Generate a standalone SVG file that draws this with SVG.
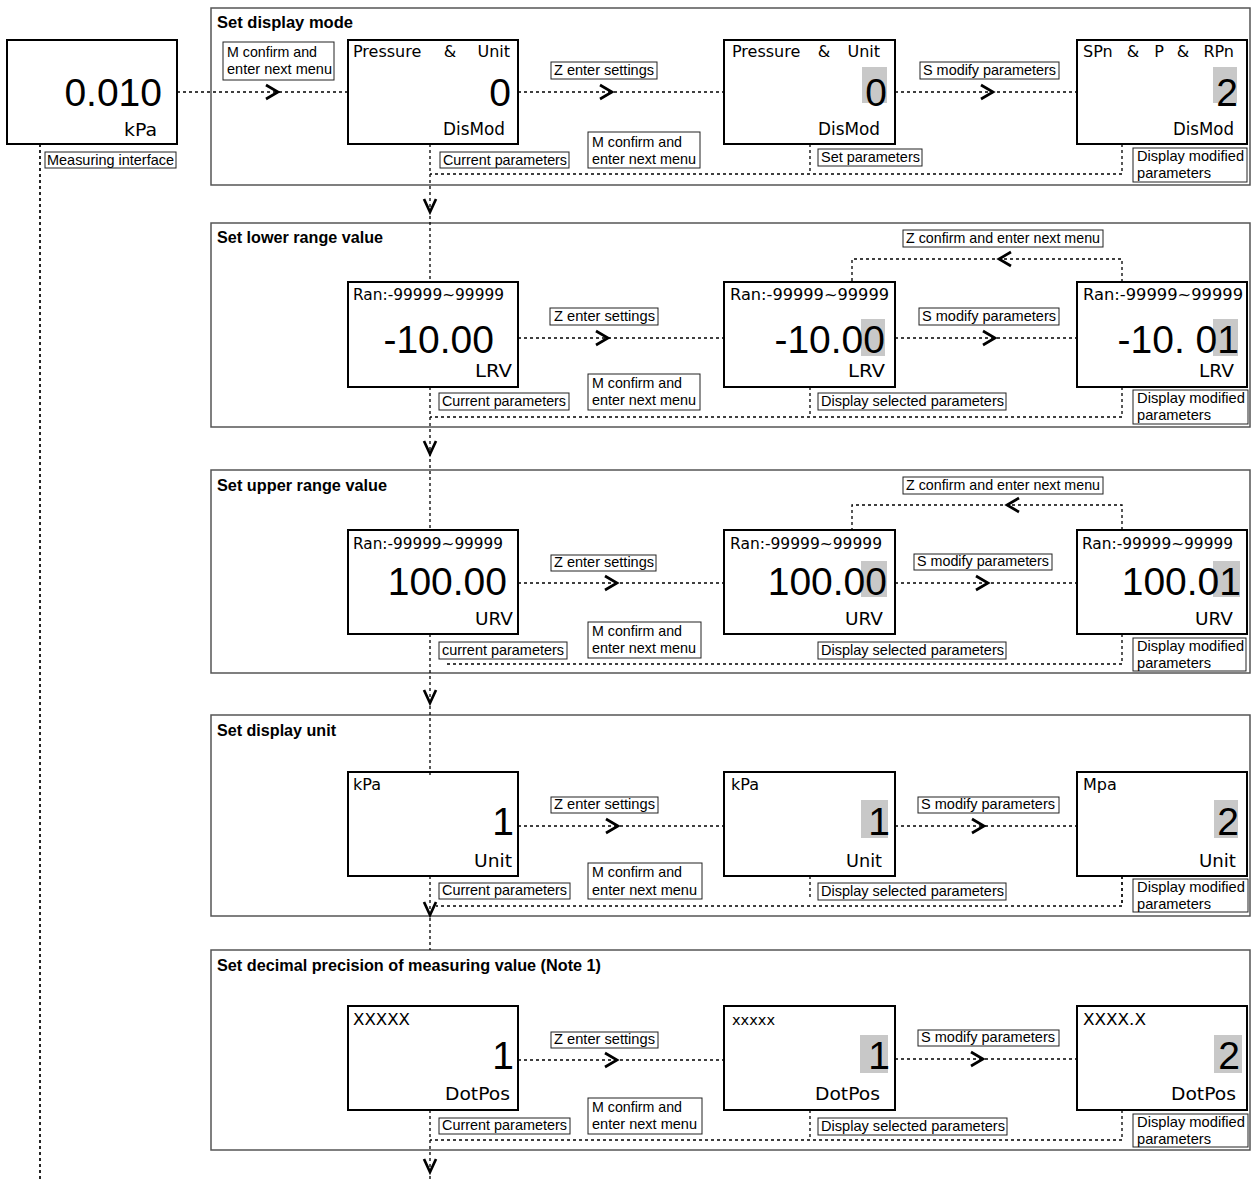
<svg xmlns="http://www.w3.org/2000/svg" width="1251" height="1180" viewBox="0 0 1251 1180">
<style>
.frame{fill:none;stroke:#555;stroke-width:1.5}
.node{fill:#fff;stroke:#000;stroke-width:2}
.lb{fill:#fff;stroke:#222;stroke-width:1}
.hl{fill:#c8c8c8}
.d{fill:none;stroke:#000;stroke-width:1.3;stroke-dasharray:3 3}
.dt{fill:none;stroke:#000;stroke-width:1.7;stroke-dasharray:3 3}
.ch{fill:none;stroke:#000;stroke-width:2.7}
text{fill:#000}
.tl{font-family:"Liberation Sans",Arial,sans-serif;font-size:14.5px}
.tt{font-family:"Liberation Sans",Arial,sans-serif;font-size:16px;font-weight:bold}
.tp{font-family:"DejaVu Sans",Verdana,sans-serif;font-size:16px}
.tb{font-family:"Liberation Sans",Arial,sans-serif;font-size:39px;text-anchor:end}
.tn{font-family:"DejaVu Sans",Verdana,sans-serif;font-size:18px}
</style>

<g id="frames">
<rect class="frame" x="211" y="8" width="1039" height="177"/>
<text class="tt" x="217" y="28" textLength="136" lengthAdjust="spacingAndGlyphs">Set display mode</text>
<rect class="frame" x="211" y="223" width="1039" height="204"/>
<text class="tt" x="217" y="243" textLength="166" lengthAdjust="spacingAndGlyphs">Set lower range value</text>
<rect class="frame" x="211" y="470" width="1039" height="203"/>
<text class="tt" x="217" y="491" textLength="170" lengthAdjust="spacingAndGlyphs">Set upper range value</text>
<rect class="frame" x="211" y="715" width="1039" height="201"/>
<text class="tt" x="217" y="736" textLength="119" lengthAdjust="spacingAndGlyphs">Set display unit</text>
<rect class="frame" x="211" y="950" width="1039" height="200"/>
<text class="tt" x="217" y="971" textLength="384" lengthAdjust="spacingAndGlyphs">Set decimal precision of measuring value (Note 1)</text>
</g>

<g id="nodes">
<g id="measuring">
<rect class="node" x="7" y="40" width="170" height="104"/>
<text class="tb" x="162" y="106">0.010</text>
<text class="tn" x="124" y="136" textLength="33" lengthAdjust="spacingAndGlyphs">kPa</text>
</g>

<g id="s1n1">
<rect class="node" x="348" y="40" width="170" height="104"/>
<text class="tp" x="353" y="57">Pressure</text>
<text class="tp" x="450" y="57" text-anchor="middle">&amp;</text>
<text class="tp" x="510" y="57" text-anchor="end">Unit</text>
<text class="tb" x="511" y="106">0</text>
<text class="tn" x="443" y="135" textLength="62" lengthAdjust="spacingAndGlyphs">DisMod</text>
</g>
<g id="s1n2">
<rect class="node" x="724" y="40" width="171" height="104"/>
<text class="tp" x="732" y="57">Pressure</text>
<text class="tp" x="824" y="57" text-anchor="middle">&amp;</text>
<text class="tp" x="880" y="57" text-anchor="end">Unit</text>
<rect class="hl" x="862" y="67" width="25" height="36"/>
<text class="tb" x="887" y="106">0</text>
<text class="tn" x="818" y="135" textLength="62" lengthAdjust="spacingAndGlyphs">DisMod</text>
</g>
<g id="s1n3">
<rect class="node" x="1077" y="40" width="170" height="104"/>
<text class="tp" x="1083" y="57">SPn</text>
<text class="tp" x="1133" y="57" text-anchor="middle">&amp;</text>
<text class="tp" x="1159" y="57" text-anchor="middle">P</text>
<text class="tp" x="1183" y="57" text-anchor="middle">&amp;</text>
<text class="tp" x="1234" y="57" text-anchor="end">RPn</text>
<rect class="hl" x="1213" y="67" width="24" height="36"/>
<text class="tb" x="1238" y="106">2</text>
<text class="tn" x="1173" y="135" textLength="61" lengthAdjust="spacingAndGlyphs">DisMod</text>
</g>

<g id="s2n1">
<rect class="node" x="348" y="282" width="170" height="105"/>
<text class="tp" x="353" y="300" textLength="151" lengthAdjust="spacingAndGlyphs">Ran:-99999~99999</text>
<text class="tb" x="494" y="353">-10.00</text>
<text class="tn" x="475" y="377" textLength="37" lengthAdjust="spacingAndGlyphs">LRV</text>
</g>
<g id="s2n2">
<rect class="node" x="724" y="282" width="171" height="105"/>
<text class="tp" x="730" y="300" textLength="159" lengthAdjust="spacingAndGlyphs">Ran:-99999~99999</text>
<rect class="hl" x="861" y="319" width="24" height="37"/>
<text class="tb" x="885" y="353">-10.00</text>
<text class="tn" x="848" y="377" textLength="37" lengthAdjust="spacingAndGlyphs">LRV</text>
</g>
<g id="s2n3">
<rect class="node" x="1077" y="282" width="170" height="105"/>
<text class="tp" x="1083" y="300" textLength="160" lengthAdjust="spacingAndGlyphs">Ran:-99999~99999</text>
<rect class="hl" x="1213" y="319" width="25" height="37"/>
<text class="tb" x="1239" y="353">-10. 01</text>
<text class="tn" x="1199" y="377" textLength="35" lengthAdjust="spacingAndGlyphs">LRV</text>
</g>

<g id="s3n1">
<rect class="node" x="348" y="530" width="170" height="104"/>
<text class="tp" x="353" y="549" textLength="150" lengthAdjust="spacingAndGlyphs">Ran:-99999~99999</text>
<text class="tb" x="507" y="595">100.00</text>
<text class="tn" x="475" y="625" textLength="38" lengthAdjust="spacingAndGlyphs">URV</text>
</g>
<g id="s3n2">
<rect class="node" x="724" y="530" width="171" height="104"/>
<text class="tp" x="730" y="549" textLength="152" lengthAdjust="spacingAndGlyphs">Ran:-99999~99999</text>
<rect class="hl" x="861" y="561" width="26" height="36"/>
<text class="tb" x="887" y="595">100.00</text>
<text class="tn" x="845" y="625" textLength="38" lengthAdjust="spacingAndGlyphs">URV</text>
</g>
<g id="s3n3">
<rect class="node" x="1077" y="530" width="170" height="104"/>
<text class="tp" x="1082" y="549" textLength="151" lengthAdjust="spacingAndGlyphs">Ran:-99999~99999</text>
<rect class="hl" x="1213" y="561" width="27" height="36"/>
<text class="tb" x="1241" y="595">100.01</text>
<text class="tn" x="1195" y="625" textLength="38" lengthAdjust="spacingAndGlyphs">URV</text>
</g>

<g id="s4n1">
<rect class="node" x="348" y="772" width="170" height="104"/>
<text class="tp" x="353" y="790">kPa</text>
<text class="tb" x="514" y="835">1</text>
<text class="tn" x="474" y="867" textLength="38" lengthAdjust="spacingAndGlyphs">Unit</text>
</g>
<g id="s4n2">
<rect class="node" x="724" y="772" width="171" height="104"/>
<text class="tp" x="731" y="790">kPa</text>
<rect class="hl" x="861" y="800" width="27" height="38"/>
<text class="tb" x="890" y="835">1</text>
<text class="tn" x="846" y="867" textLength="36" lengthAdjust="spacingAndGlyphs">Unit</text>
</g>
<g id="s4n3">
<rect class="node" x="1077" y="772" width="170" height="104"/>
<text class="tp" x="1083" y="790">Mpa</text>
<rect class="hl" x="1214" y="800" width="24" height="38"/>
<text class="tb" x="1239" y="835">2</text>
<text class="tn" x="1199" y="867" textLength="37" lengthAdjust="spacingAndGlyphs">Unit</text>
</g>

<g id="s5n1">
<rect class="node" x="348" y="1006" width="170" height="104"/>
<text class="tp" x="353" y="1025" textLength="57" lengthAdjust="spacingAndGlyphs">XXXXX</text>
<text class="tb" x="514" y="1069">1</text>
<text class="tn" x="445" y="1100" textLength="65" lengthAdjust="spacingAndGlyphs">DotPos</text>
</g>
<g id="s5n2">
<rect class="node" x="724" y="1006" width="171" height="104"/>
<text class="tp" x="732" y="1025" textLength="43" lengthAdjust="spacingAndGlyphs" style="font-size:14px">xxxxx</text>
<rect class="hl" x="860" y="1035" width="28" height="38"/>
<text class="tb" x="890" y="1069">1</text>
<text class="tn" x="815" y="1100" textLength="65" lengthAdjust="spacingAndGlyphs">DotPos</text>
</g>
<g id="s5n3">
<rect class="node" x="1077" y="1006" width="170" height="104"/>
<text class="tp" x="1083" y="1025" textLength="63" lengthAdjust="spacingAndGlyphs">XXXX.X</text>
<rect class="hl" x="1214" y="1035" width="28" height="38"/>
<text class="tb" x="1240" y="1069">2</text>
<text class="tn" x="1171" y="1100" textLength="65" lengthAdjust="spacingAndGlyphs">DotPos</text>
</g>
</g>

<g id="connectors">
<path class="dt" d="M40 144V1180"/>
<path class="dt" d="M177 92H348"/>
<path class="ch" d="M266 85L278 92L266 99"/>
<!-- S1 -->
<path class="dt" d="M518 92H724"/>
<path class="ch" d="M600 85L612 92L600 99"/>
<path class="dt" d="M895 92H1077"/>
<path class="ch" d="M981 85L993 92L981 99"/>
<path class="d" d="M810 144V172"/>
<path class="d" d="M1122 144V174H430"/>
<path class="d" d="M430 144V282"/>
<path class="ch" d="M424 199L430 212L436 199"/>
<!-- S2 -->
<path class="d" d="M518 338H724"/>
<path class="ch" d="M596 331L608 338L596 345"/>
<path class="d" d="M895 338H1077"/>
<path class="ch" d="M983 331L995 338L983 345"/>
<path class="d" d="M1122 282V259H852V282"/>
<path class="ch" d="M1011 252L999 259L1011 266"/>
<path class="d" d="M810 387V414"/>
<path class="d" d="M1122 387V417H430"/>
<path class="d" d="M430 387V530"/>
<path class="ch" d="M424 441L430 454L436 441"/>
<!-- S3 -->
<path class="d" d="M518 583H724"/>
<path class="ch" d="M605 576L617 583L605 590"/>
<path class="d" d="M895 583H1077"/>
<path class="ch" d="M976 576L988 583L976 590"/>
<path class="d" d="M1122 530V505H852V530"/>
<path class="ch" d="M1019 498L1007 505L1019 512"/>
<path class="d" d="M1122 634V664H445"/>
<path class="d" d="M430 634V778"/>
<path class="ch" d="M424 690L430 703L436 690"/>
<!-- S4 -->
<path class="d" d="M518 826H724"/>
<path class="ch" d="M606 819L618 826L606 833"/>
<path class="dt" d="M895 826H1077"/>
<path class="ch" d="M972 819L984 826L972 833"/>
<path class="d" d="M810 876V898"/>
<path class="dt" d="M1122 876V906H436"/>
<path class="d" d="M430 876V950"/>
<path class="ch" d="M424 902L430 915L436 902"/>
<!-- S5 -->
<path class="d" d="M518 1060H724"/>
<path class="ch" d="M605 1053L617 1060L605 1067"/>
<path class="d" d="M895 1059H1077"/>
<path class="ch" d="M971 1052L983 1059L971 1066"/>
<path class="d" d="M810 1110V1138"/>
<path class="d" d="M1122 1110V1140H430"/>
<path class="d" d="M430 1110V1180"/>
<path class="ch" d="M424 1159L430 1172L436 1159"/>
</g>

<g id="labels">
<!-- S1 -->
<rect class="lb" x="223" y="42" width="111" height="38"/>
<text class="tl" x="227" y="57" textLength="90" lengthAdjust="spacingAndGlyphs">M confirm and</text>
<text class="tl" x="227" y="74" textLength="105" lengthAdjust="spacingAndGlyphs">enter next menu</text>
<rect class="lb" x="551" y="62" width="106" height="17"/>
<text class="tl" x="554" y="75" textLength="100" lengthAdjust="spacingAndGlyphs">Z enter settings</text>
<rect class="lb" x="920" y="62" width="139" height="17"/>
<text class="tl" x="923" y="75" textLength="133" lengthAdjust="spacingAndGlyphs">S modify parameters</text>
<rect class="lb" x="45" y="152" width="131" height="16"/>
<text class="tl" x="47" y="165" textLength="127" lengthAdjust="spacingAndGlyphs">Measuring interface</text>
<rect class="lb" x="440" y="152" width="129" height="16"/>
<text class="tl" x="443" y="165" textLength="124" lengthAdjust="spacingAndGlyphs">Current parameters</text>
<rect class="lb" x="588" y="132" width="112" height="36"/>
<text class="tl" x="592" y="147" textLength="90" lengthAdjust="spacingAndGlyphs">M confirm and</text>
<text class="tl" x="592" y="164" textLength="104" lengthAdjust="spacingAndGlyphs">enter next menu</text>
<rect class="lb" x="818" y="149" width="104" height="17"/>
<text class="tl" x="821" y="162" textLength="99" lengthAdjust="spacingAndGlyphs">Set parameters</text>
<rect class="lb" x="1133" y="148" width="114" height="34"/>
<text class="tl" x="1137" y="161" textLength="107" lengthAdjust="spacingAndGlyphs">Display modified</text>
<text class="tl" x="1137" y="178" textLength="74" lengthAdjust="spacingAndGlyphs">parameters</text>
<!-- S2 -->
<rect class="lb" x="903" y="230" width="200" height="17"/>
<text class="tl" x="906" y="243" textLength="194" lengthAdjust="spacingAndGlyphs">Z confirm and enter next menu</text>
<rect class="lb" x="550" y="308" width="108" height="17"/>
<text class="tl" x="554" y="321" textLength="101" lengthAdjust="spacingAndGlyphs">Z enter settings</text>
<rect class="lb" x="919" y="308" width="140" height="17"/>
<text class="tl" x="922" y="321" textLength="134" lengthAdjust="spacingAndGlyphs">S modify parameters</text>
<rect class="lb" x="439" y="393" width="130" height="17"/>
<text class="tl" x="442" y="406" textLength="124" lengthAdjust="spacingAndGlyphs">Current parameters</text>
<rect class="lb" x="588" y="374" width="112" height="36"/>
<text class="tl" x="592" y="388" textLength="90" lengthAdjust="spacingAndGlyphs">M confirm and</text>
<text class="tl" x="592" y="405" textLength="104" lengthAdjust="spacingAndGlyphs">enter next menu</text>
<rect class="lb" x="818" y="393" width="188" height="17"/>
<text class="tl" x="821" y="406" textLength="183" lengthAdjust="spacingAndGlyphs">Display selected parameters</text>
<rect class="lb" x="1133" y="390" width="115" height="34"/>
<text class="tl" x="1137" y="403" textLength="108" lengthAdjust="spacingAndGlyphs">Display modified</text>
<text class="tl" x="1137" y="420" textLength="74" lengthAdjust="spacingAndGlyphs">parameters</text>
<!-- S3 -->
<rect class="lb" x="903" y="477" width="200" height="17"/>
<text class="tl" x="906" y="490" textLength="194" lengthAdjust="spacingAndGlyphs">Z confirm and enter next menu</text>
<rect class="lb" x="551" y="555" width="105" height="16"/>
<text class="tl" x="554" y="567" textLength="100" lengthAdjust="spacingAndGlyphs">Z enter settings</text>
<rect class="lb" x="914" y="554" width="138" height="16"/>
<text class="tl" x="917" y="566" textLength="132" lengthAdjust="spacingAndGlyphs">S modify parameters</text>
<rect class="lb" x="439" y="642" width="128" height="17"/>
<text class="tl" x="442" y="655" textLength="122" lengthAdjust="spacingAndGlyphs">current parameters</text>
<rect class="lb" x="588" y="622" width="113" height="36"/>
<text class="tl" x="592" y="636" textLength="90" lengthAdjust="spacingAndGlyphs">M confirm and</text>
<text class="tl" x="592" y="653" textLength="104" lengthAdjust="spacingAndGlyphs">enter next menu</text>
<rect class="lb" x="818" y="642" width="188" height="17"/>
<text class="tl" x="821" y="655" textLength="183" lengthAdjust="spacingAndGlyphs">Display selected parameters</text>
<rect class="lb" x="1133" y="638" width="113" height="33"/>
<text class="tl" x="1137" y="651" textLength="107" lengthAdjust="spacingAndGlyphs">Display modified</text>
<text class="tl" x="1137" y="668" textLength="74" lengthAdjust="spacingAndGlyphs">parameters</text>
<!-- S4 -->
<rect class="lb" x="551" y="797" width="107" height="16"/>
<text class="tl" x="554" y="809" textLength="101" lengthAdjust="spacingAndGlyphs">Z enter settings</text>
<rect class="lb" x="918" y="797" width="141" height="16"/>
<text class="tl" x="921" y="809" textLength="134" lengthAdjust="spacingAndGlyphs">S modify parameters</text>
<rect class="lb" x="439" y="883" width="131" height="16"/>
<text class="tl" x="442" y="895" textLength="125" lengthAdjust="spacingAndGlyphs">Current parameters</text>
<rect class="lb" x="588" y="863" width="114" height="36"/>
<text class="tl" x="592" y="877" textLength="90" lengthAdjust="spacingAndGlyphs">M confirm and</text>
<text class="tl" x="592" y="895" textLength="105" lengthAdjust="spacingAndGlyphs">enter next menu</text>
<rect class="lb" x="818" y="883" width="188" height="17"/>
<text class="tl" x="821" y="896" textLength="183" lengthAdjust="spacingAndGlyphs">Display selected parameters</text>
<rect class="lb" x="1133" y="879" width="115" height="33"/>
<text class="tl" x="1137" y="892" textLength="108" lengthAdjust="spacingAndGlyphs">Display modified</text>
<text class="tl" x="1137" y="909" textLength="74" lengthAdjust="spacingAndGlyphs">parameters</text>
<!-- S5 -->
<rect class="lb" x="551" y="1032" width="107" height="16"/>
<text class="tl" x="554" y="1044" textLength="101" lengthAdjust="spacingAndGlyphs">Z enter settings</text>
<rect class="lb" x="918" y="1030" width="141" height="16"/>
<text class="tl" x="921" y="1042" textLength="134" lengthAdjust="spacingAndGlyphs">S modify parameters</text>
<rect class="lb" x="439" y="1118" width="131" height="16"/>
<text class="tl" x="442" y="1130" textLength="125" lengthAdjust="spacingAndGlyphs">Current parameters</text>
<rect class="lb" x="588" y="1098" width="114" height="36"/>
<text class="tl" x="592" y="1112" textLength="90" lengthAdjust="spacingAndGlyphs">M confirm and</text>
<text class="tl" x="592" y="1129" textLength="105" lengthAdjust="spacingAndGlyphs">enter next menu</text>
<rect class="lb" x="818" y="1118" width="189" height="17"/>
<text class="tl" x="821" y="1131" textLength="184" lengthAdjust="spacingAndGlyphs">Display selected parameters</text>
<rect class="lb" x="1133" y="1114" width="115" height="33"/>
<text class="tl" x="1137" y="1127" textLength="108" lengthAdjust="spacingAndGlyphs">Display modified</text>
<text class="tl" x="1137" y="1144" textLength="74" lengthAdjust="spacingAndGlyphs">parameters</text>
</g>
</svg>
